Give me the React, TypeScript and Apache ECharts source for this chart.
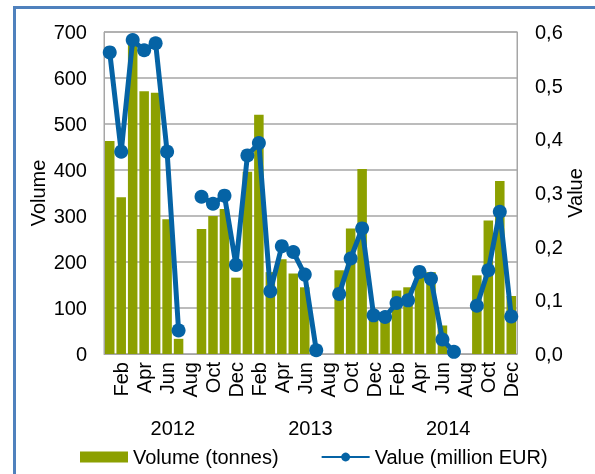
import React, { useEffect, useRef } from "react";
import * as echarts from "echarts";

const monthNames = ["Jan", "Feb", "Mar", "Apr", "May", "Jun", "Jul", "Aug", "Sep", "Oct", "Nov", "Dec"];
const years = ["2012", "2013", "2014"];
const categories = years.flatMap((y) => monthNames.map((m) => `${m} ${y}`));

const volume2012 = [463, 341, 675, 571, 568, 293, 33, null, 272, 300, 315, 166];
const volume2013 = [396, 520, 178, 206, 175, 145, 0, null, 182, 273, 402, 88];
const volume2014 = [75, 138, 145, 176, 178, 62, 0, null, 171, 290, 376, 126];

const value2012 = [0.562, 0.377, 0.585, 0.566, 0.579, 0.377, 0.044, null, 0.293, 0.28, 0.295, 0.166];
const value2013 = [0.37, 0.393, 0.117, 0.201, 0.19, 0.148, 0.007, null, 0.112, 0.178, 0.234, 0.072];
const value2014 = [0.069, 0.095, 0.1, 0.153, 0.14, 0.027, 0.004, null, 0.09, 0.156, 0.265, 0.07];

const volume = [...volume2012, ...volume2013, ...volume2014];
const value = [...value2012, ...value2013, ...value2014];

const FONT = "Liberation Sans, Arial, sans-serif";
const GRAY = "#A6A6A6";
const FS = 20;

export default function App() {
  const ref = useRef<HTMLDivElement>(null);
  useEffect(() => {
    const chart = echarts.init(ref.current!, null, { renderer: "svg" });
    chart.setOption({
      animation: false,
      textStyle: { fontFamily: FONT, color: "#000" },
      graphic: [
        {
          type: "rect",
          shape: { x: 14.5, y: 7.5, width: 700, height: 600 },
          style: { fill: "none", stroke: "#4F81BD", lineWidth: 3 },
          z: -1,
        },
      ],
      grid: {
        left: 104,
        top: 32,
        width: 413,
        height: 322,
        show: true,
        borderColor: GRAY,
        borderWidth: 1,
        containLabel: false,
        outerBoundsMode: "none",
      },
      legend: {
        left: 75,
        top: 442,
        itemWidth: 48,
        itemHeight: 11,
        itemGap: 42,
        textStyle: { fontSize: FS, fontFamily: FONT, color: "#000" },
        data: [
          { name: "Volume (tonnes)", icon: "rect" },
          { name: "Value (million EUR)" },
        ],
      },
      xAxis: [
        {
          type: "category",
          data: categories,
          boundaryGap: true,
          axisLine: { show: true, lineStyle: { color: GRAY, width: 1 } },
          axisTick: { show: false },
          axisLabel: {
            rotate: 90,
            fontSize: FS,
            fontFamily: FONT,
            color: "#000",
            margin: 8,
            interval: (index: number) => index % 2 === 1,
            formatter: (v: string) => v.split(" ")[0],
          },
        },
        {
          type: "category",
          data: years,
          position: "bottom",
          boundaryGap: true,
          axisLine: { show: false },
          axisTick: { show: false },
          axisLabel: { fontSize: FS, fontFamily: FONT, color: "#000", margin: 64 },
        },
      ],
      yAxis: [
        {
          type: "value",
          min: 0,
          max: 700,
          interval: 100,
          name: "Volume",
          nameLocation: "middle",
          nameGap: 56,
          nameMoveOverlap: false,
          nameTextStyle: { fontSize: FS, fontFamily: FONT, color: "#000" },
          axisLine: { show: true, lineStyle: { color: GRAY } },
          axisTick: { show: false },
          axisLabel: { fontSize: FS, fontFamily: FONT, color: "#000", margin: 17 },
          splitLine: { show: true, lineStyle: { color: GRAY, width: 1.5 } },
        },
        {
          type: "value",
          min: 0,
          max: 0.6,
          interval: 0.1,
          position: "right",
          name: "Value",
          nameLocation: "middle",
          nameGap: 48,
          nameMoveOverlap: false,
          nameTextStyle: { fontSize: FS, fontFamily: FONT, color: "#000" },
          axisLine: { show: true, lineStyle: { color: GRAY } },
          axisTick: { show: false },
          axisLabel: {
            fontSize: FS,
            fontFamily: FONT,
            color: "#000",
            margin: 18,
            formatter: (v: number) => v.toFixed(1).replace(".", ","),
          },
          splitLine: { show: false },
        },
      ],
      series: [
        {
          name: "Volume (tonnes)",
          type: "bar",
          data: volume,
          xAxisIndex: 0,
          yAxisIndex: 0,
          barCategoryGap: "17%",
          itemStyle: { color: "#8CA000" },
        },
        {
          name: "Value (million EUR)",
          type: "line",
          data: value,
          xAxisIndex: 0,
          yAxisIndex: 1,
          connectNulls: false,
          symbol: "circle",
          symbolSize: 14,
          showSymbol: true,
          showAllSymbol: true,
          lineStyle: { color: "#0563A5", width: 5 },
          itemStyle: { color: "#0563A5" },
        },
      ],
    });
    return () => chart.dispose();
  }, []);
  return <div ref={ref} style={{ position: "fixed", left: 0, top: 0, width: 595, height: 474 }} />;
}
